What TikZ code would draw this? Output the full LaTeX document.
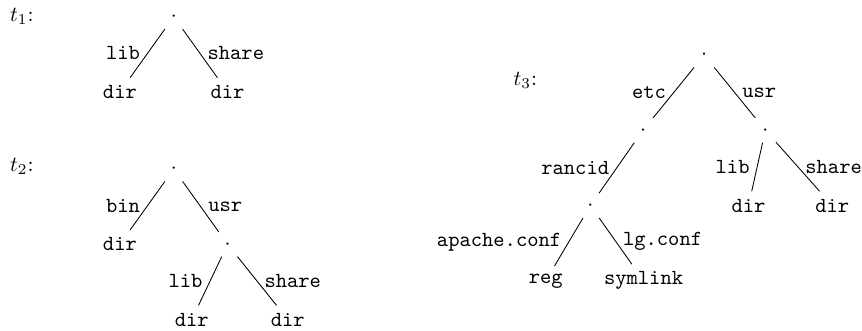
\documentclass[tikz,border=0pt]{standalone}
\begin{document}
\begin{tikzpicture}[font=\ttfamily,level distance=1.23cm,sibling distance=1.76cm]
    \tikzstyle{treelabel}=[anchor=base west,inner sep=0pt,font=\normalfont]
    \useasboundingbox (0,0) rectangle (14.09,-5.41);
    % t1
    \node[treelabel] (t1) at (0.16,-0.345) {$t_1$:};
    \node (r1) at (2.84,-0.273) {$\cdot$}
        child {
            node (r1a) {dir}
            edge from parent node[left] {lib}
        }
        child {
            node (r1b) {dir}
            edge from parent node[right] {share}
        };
    % t2
    \node[treelabel] (t2) at (0.16,-2.80) {$t_2$:};
    \begin{scope}[level 2/.style={sibling distance=1.57cm}]
        \node (r2) at (2.84,-2.763) {$\cdot$}
        child {
            node (r2a) {dir}
            edge from parent node[left] {bin}
        }
        child {
            node (r2b) {$\cdot$}
            child[xshift=.2cm] {
                node (r2c) {dir}
                edge from parent node[left] {lib}
            }
            child[xshift=.2cm] {
                node (r2d) {dir}
                edge from parent node[right] {share}
            }
            edge from parent node[right] {usr}
        };
    \end{scope}
    % t3
    \node[treelabel] (t3) at (8.39,-1.39) {$t_3$:};
    \begin{scope}[level 1/.style={sibling distance=2cm},
        level 2/.style={sibling distance=1.37cm},
        level 3/.style={sibling distance=1.6cm}]
        \node (r3) at (11.51,-0.90) {$\cdot$}
        child {
            node (r3a) {$\cdot$}
            child[xshift=-.86cm] {
                node (r3c) {$\cdot$}
                child[xshift=.07cm] {
                    node (r3e) {reg}
                    edge from parent node[left] {apache.conf}
                }
                child[xshift=.07cm] {
                    node (r3f) {symlink}
                    edge from parent node[right] {lg.conf}
                }
                edge from parent node[left] {rancid}
            }
            edge from parent node[left] {etc}
        }
        child {
            node (r3b) {$\cdot$}
            child[xshift=.41cm] {
                node (r3g) {dir}
                edge from parent node[left] {lib}
            }
            child[xshift=.41cm] {
                node (r3h) {dir}
                edge from parent node[right] {share}
            }
            edge from parent node[right] {usr}
        };
    \end{scope}
\end{tikzpicture}
\end{document}
